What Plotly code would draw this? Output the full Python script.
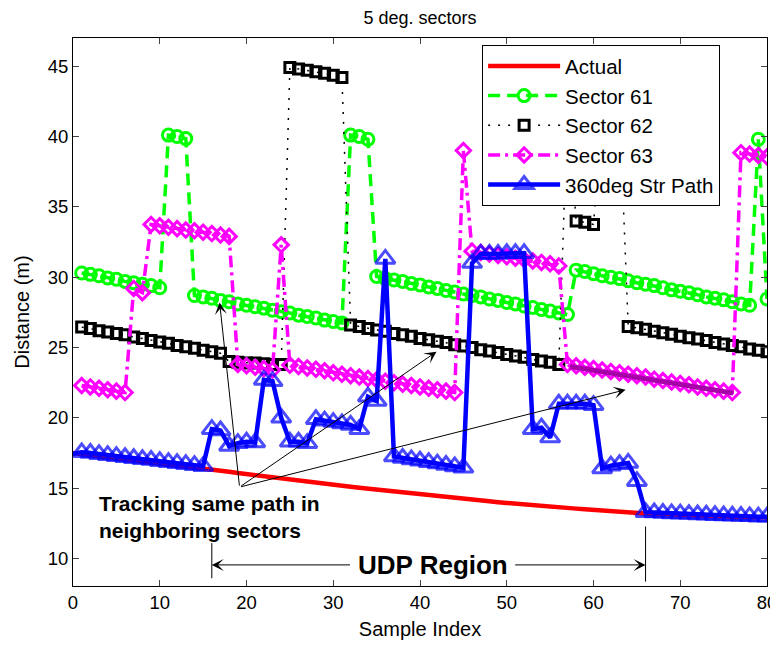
import plotly.graph_objects as go

# ---------------- data ----------------
x_actual = list(range(0, 81))
actual = [17.5, 17.43, 17.36, 17.29, 17.22, 17.15, 17.08, 17.01, 16.94, 16.87, 16.8, 16.73, 16.66, 16.59, 16.51, 16.43,
          16.35, 16.26, 16.17, 16.08, 16.0, 15.92, 15.84, 15.76, 15.68, 15.6, 15.53, 15.46, 15.39, 15.32, 15.25,
          15.18, 15.11, 15.04, 14.97, 14.9, 14.83, 14.76, 14.69, 14.62, 14.55, 14.49, 14.43, 14.37, 14.31, 14.25,
          14.19, 14.13, 14.07, 14.01, 13.95, 13.9, 13.85, 13.8, 13.75, 13.7, 13.65, 13.6, 13.55, 13.5, 13.45,
          13.41, 13.36, 13.32, 13.27, 13.23,
          13.2, 13.18, 13.15, 13.13, 13.1, 13.08, 13.06, 13.04, 13.02, 13.0, 12.98, 12.96, 12.95, 12.93, 12.92]

x_sector = list(range(1, 81))
sector61 = [30.3, 30.2, 30.1, 29.95, 29.85, 29.7, 29.6, 29.5, 29.4, 29.25,
            40.1, 40.0, 39.85,
            28.7, 28.6, 28.5, 28.35, 28.25, 28.1, 28.0, 27.9, 27.8, 27.65, 27.55, 27.45, 27.3, 27.2, 27.1, 26.95, 26.85, 26.75,
            40.1, 40.0, 39.8,
            30.05, 29.9, 29.8, 29.7, 29.55, 29.45, 29.3, 29.2, 29.05, 28.95, 28.8, 28.7, 28.6, 28.45, 28.35, 28.2,
            28.1, 27.95, 27.85, 27.7, 27.6, 27.45, 27.35,
            30.5, 30.4, 30.25, 30.1, 30.0, 29.9, 29.75, 29.6, 29.5, 29.4, 29.25, 29.1, 29.0, 28.9, 28.75, 28.6,
            28.5, 28.4, 28.25, 28.1, 28.0,
            39.8, 28.45]
sector62 = [26.45, 26.35, 26.2, 26.1, 26.0, 25.9, 25.75, 25.65, 25.5, 25.4, 25.3, 25.15, 25.05, 24.95, 24.8, 24.7, 24.6,
            24.0, 23.95, 23.9, 23.9, 23.85, 23.8, 23.8,
            44.9, 44.8, 44.7, 44.6, 44.5, 44.35, 44.2,
            26.6, 26.5, 26.35, 26.25, 26.15, 26.0, 25.9, 25.8, 25.65, 25.55, 25.45, 25.35, 25.2, 25.1, 25.0,
            24.85, 24.75, 24.65, 24.5, 24.4, 24.3, 24.15, 24.05, 23.95, 23.8,
            42.0,
            34.0, 33.9, 33.75,
            42.0, 42.0, 42.0,
            26.5, 26.4, 26.3, 26.15, 26.05, 25.95, 25.8, 25.7, 25.6, 25.5, 25.35, 25.25, 25.15, 25.05, 24.9, 24.8, 24.7]
sector63 = [22.3, 22.2, 22.1, 22.0, 21.9, 21.8,
            29.2, 28.9,
            33.75, 33.65, 33.55, 33.45, 33.35, 33.3, 33.2, 33.1, 33.0, 32.9,
            23.8, 23.7, 23.6, 23.5, 23.4,
            32.3,
            23.75, 23.65, 23.55, 23.45, 23.35, 23.2, 23.1, 23.0, 22.9, 22.8, 22.7, 22.6, 22.5, 22.4, 22.3,
            22.2, 22.1, 22.0, 21.9, 21.8,
            39.0,
            31.85, 31.75, 31.65, 31.55, 31.45, 31.35, 31.25, 31.15, 31.05, 30.95, 30.8,
            23.8, 23.7, 23.6, 23.5, 23.4, 23.3, 23.2, 23.1, 23.0, 22.9, 22.75, 22.65, 22.55, 22.45, 22.35,
            22.2, 22.1, 22.0, 21.9, 21.8,
            38.85, 38.75, 38.65, 38.55]

x_str = list(range(0, 81))
str_path = [17.45,
            17.55, 17.5, 17.42, 17.35, 17.28, 17.2, 17.13, 17.06, 17.0, 16.92, 16.85, 16.78, 16.71, 16.64, 16.57,
            19.2, 19.1, 18.0, 18.2, 18.3, 18.25, 22.7, 22.6, 20.0, 18.3, 18.3, 18.2, 19.9, 19.8, 19.7, 19.6,
            19.5, 19.2, 21.5, 21.2, 31.3,
            17.25, 17.15, 17.05, 16.95, 16.85, 16.75, 16.65, 16.55, 16.45,
            31.0, 31.65, 31.65, 31.65, 31.7, 31.7, 31.7,
            19.2, 19.3, 18.6, 21.0, 21.0, 21.0, 21.0, 20.9,
            16.4, 16.6, 16.7, 16.8, 15.5, 13.3,
            13.27, 13.24, 13.21, 13.19, 13.16, 13.13, 13.11, 13.08, 13.06, 13.04, 13.02, 13.0, 12.98, 12.97]

x_ticks = [0, 10, 20, 30, 40, 50, 60, 70, 80]
y_ticks = [10, 15, 20, 25, 30, 35, 40, 45]

FONT = "Liberation Sans, Arial, Helvetica, sans-serif"

fig = go.Figure()
fig.add_trace(go.Scatter(x=x_actual, y=actual, mode="lines", name="Actual",
                         line=dict(color="#ff0000", width=4.5)))
fig.add_trace(go.Scatter(x=x_sector, y=sector61, mode="lines+markers", name="Sector 61",
                         line=dict(color="#00ff00", width=3.5, dash="12px,7px"),
                         marker=dict(symbol="circle-open", size=12, color="#00ff00",
                                     line=dict(width=3, color="#00ff00"))))
fig.add_trace(go.Scatter(x=x_sector, y=sector62, mode="lines+markers", name="Sector 62",
                         line=dict(color="#000000", width=1.5, dash="2px,8px"),
                         marker=dict(symbol="square-open", size=10, color="#000000",
                                     line=dict(width=3, color="#000000"))))
fig.add_trace(go.Scatter(x=x_sector, y=sector63, mode="lines+markers", name="Sector 63",
                         line=dict(color="#ff00ff", width=3.5, dash="12px,5px,3px,5px"),
                         marker=dict(symbol="diamond-open", size=11, color="#ff00ff",
                                     line=dict(width=3, color="#ff00ff"))))
fig.add_trace(go.Scatter(x=x_str, y=str_path, mode="lines+markers", name="360deg Str Path",
                         line=dict(color="#0000ff", width=4.5),
                         marker=dict(symbol="triangle-up-open", size=[0] + [17] * 80, color="#0000ff",
                                     line=dict(width=3, color="#0000ff"))))

ann = []
# tracking text
ann.append(dict(x=2.8, y=12.93, xref="x", yref="y", xanchor="left", yanchor="middle", align="left",
                text="<b>Tracking same path in<br>neighboring sectors</b>", showarrow=False,
                font=dict(family=FONT, size=21, color="black")))
# arrows from common origin
for hx, hy in [(16.9, 28.2), (41.9, 24.7), (63.7, 22.0)]:
    ann.append(dict(x=hx, y=hy, ax=19.2, ay=15.08, xref="x", yref="y", axref="x", ayref="y",
                    text="", showarrow=True, arrowhead=3, arrowsize=2, arrowwidth=1, arrowcolor="black"))
# UDP region
ann.append(dict(x=41.45, y=9.55, xref="x", yref="y", text="<b>UDP Region</b>", showarrow=False,
                font=dict(family=FONT, size=26, color="black")))
ann.append(dict(x=16, y=9.55, ax=32.1, ay=9.55, xref="x", yref="y", axref="x", ayref="y",
                text="", showarrow=True, arrowhead=3, arrowsize=2, arrowwidth=1, arrowcolor="black"))
ann.append(dict(x=66, y=9.55, ax=50.8, ay=9.55, xref="x", yref="y", axref="x", ayref="y",
                text="", showarrow=True, arrowhead=3, arrowsize=2, arrowwidth=1, arrowcolor="black"))

shapes = [
    dict(type="line", xref="x", yref="y", x0=16, x1=16, y0=8.6, y1=11.1, line=dict(color="black", width=1)),
    dict(type="line", xref="x", yref="y", x0=66, x1=66, y0=8.36, y1=12.28, line=dict(color="black", width=1)),
    dict(type="line", xref="x", yref="y", x0=57.3, x1=76.1, y0=23.65, y1=21.76,
         line=dict(color="#a800a8", width=5), layer="above"),
]

fig.update_layout(
    width=778, height=646,
    margin=dict(l=65, r=19, t=30, b=68, autoexpand=False),
    paper_bgcolor="white", plot_bgcolor="white",
    font=dict(family=FONT, size=19, color="black"),
    title=dict(text="5 deg. sectors", x=412 / 778, xanchor="center", y=1 - 10 / 646, yanchor="middle",
               font=dict(family=FONT, size=18, color="black")),
    xaxis=dict(range=[0, 80], tickvals=x_ticks, ticks="inside", ticklen=6, mirror="ticks",
               showline=True, linecolor="black", linewidth=1, showgrid=False, zeroline=False,
               automargin=False,
               title=dict(text="Sample Index", font=dict(size=20), standoff=9),
               tickfont=dict(size=18.5)),
    yaxis=dict(range=[8.05, 47.0], tickvals=y_ticks, ticks="inside", ticklen=6, mirror="ticks",
               showline=True, linecolor="black", linewidth=1, showgrid=False, zeroline=False,
               automargin=False,
               title=dict(text="Distance (m)", font=dict(size=20), standoff=12),
               tickfont=dict(size=18.5)),
    legend=dict(x=0.5895, y=0.987, xanchor="left", yanchor="top", bgcolor="white",
                bordercolor="black", borderwidth=1, font=dict(family=FONT, size=20.5),
                itemwidth=72, tracegroupgap=0),
    annotations=ann,
    shapes=shapes,
    showlegend=True,
)

fig.write_html("out.html")
